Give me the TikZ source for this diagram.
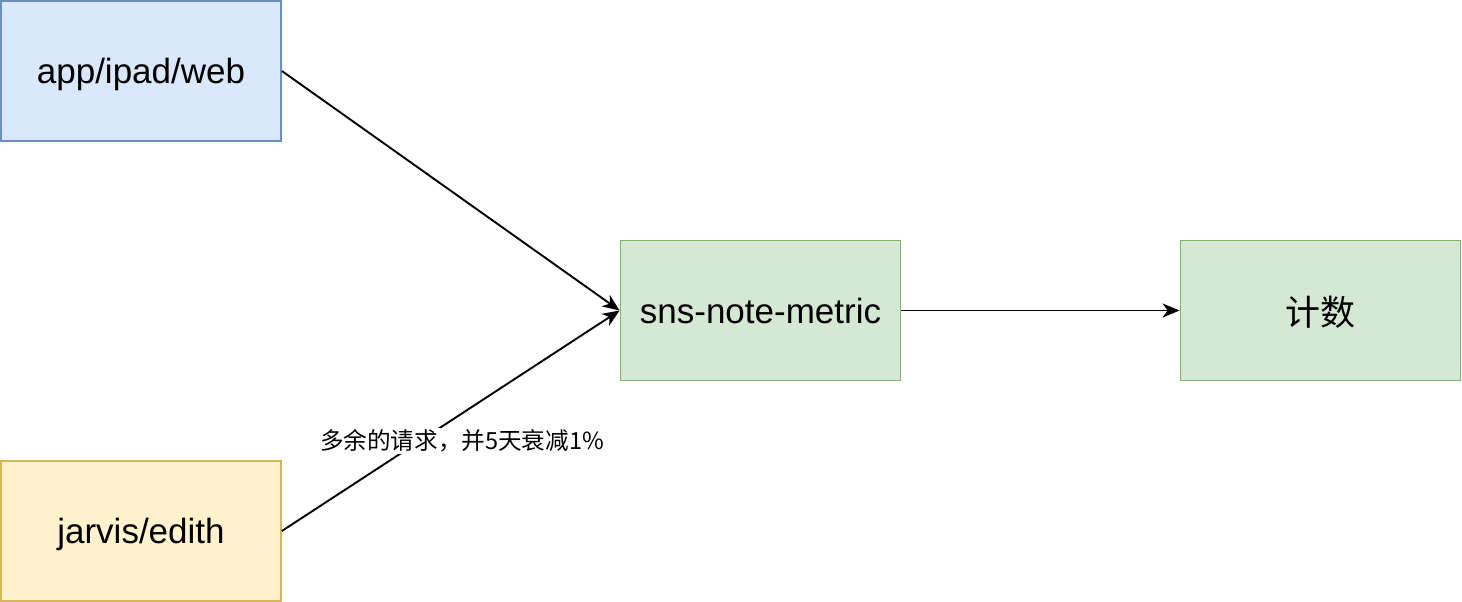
\documentclass[tikz,border=0pt]{standalone}
\usepackage{fontspec}
\setmainfont{Liberation Sans}
\newfontfamily\cjk{Noto Sans CJK SC}
\usetikzlibrary{arrows.meta}
\definecolor{bluefill}{HTML}{DAE8FC}
\definecolor{bluedraw}{HTML}{6C8EBF}
\definecolor{yelfill}{HTML}{FFF2CC}
\definecolor{yeldraw}{HTML}{D6B656}
\definecolor{grnfill}{HTML}{D5E8D4}
\definecolor{grndraw}{HTML}{82B366}
\tikzset{
  box/.style={rectangle, minimum width=280pt, minimum height=140pt, line width=1.8pt, inner sep=0pt, text depth=0pt, font=\fontsize{35}{42}\selectfont},
  bluebox/.style={box, fill=bluefill, draw=bluedraw},
  yelbox/.style={box, fill=yelfill, draw=yeldraw},
  grnbox/.style={box, fill=grnfill, draw=grndraw},
  conn/.style={line width=1.9pt, -{Stealth[length=17pt,width=14pt,inset=5pt]}},
  lbl/.style={fill=white, inner sep=2pt, font=\cjk\fontsize{23.6}{28}\selectfont}
}
\begin{document}
\begin{tikzpicture}[x=1pt,y=-1pt]
\useasboundingbox (0,0) rectangle (1462,602);
\node[bluebox] (app) at (141,71) {app/ipad/web};
\node[yelbox] (jar) at (141,531) {jarvis/edith};
\node[grnbox] (sns) at (760.5,310.5) {sns-note-metric};
\node[grnbox] (cnt) at (1320.5,310.5) {\cjk 计数};
\draw[conn] (app.east) -- (sns.west);
\draw[conn] (jar.east) -- (sns.west);
\draw[conn] (sns.east) -- (cnt.west);
\node[lbl] (l1) at (462,441) {多余的请求，并5天衰减1\%};
\end{tikzpicture}
\end{document}
